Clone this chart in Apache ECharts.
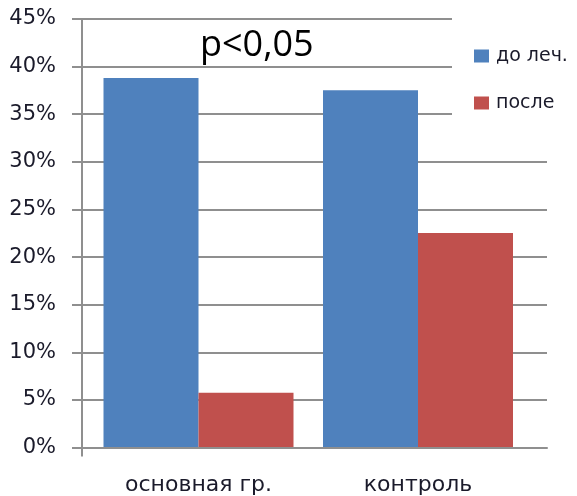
<!DOCTYPE html>
<html>
<head>
<meta charset="utf-8">
<script src="https://cdn.jsdelivr.net/npm/echarts@6/dist/echarts.min.js"></script>
<style>
  html, body { margin: 0; padding: 0; background: #fff; }
  #chart { width: 577px; height: 496px; }
</style>
</head>
<body>
<div id="chart"></div>
<script>
const categories = ['основная гр.', 'контроль'];
const seriesNames = ['до леч.', 'после'];
const beforeValues = [38.8, 37.5];
const afterValues = [5.7, 22.5];
const yTicks = { min: 0, max: 45, interval: 5 };
const annotation = 'p<0,05';

const chart = echarts.init(document.getElementById('chart'), null, { renderer: 'canvas' });
const gridColor = '#8f8f8f';
const textColor = '#1a1a2a';
const font = 'DejaVu Sans';

chart.setOption({
  animation: false,
  backgroundColor: '#ffffff',
  title: {
    text: annotation,
    left: 200,
    top: 28,
    padding: 0,
    textStyle: { fontFamily: 'Open Sans', fontSize: 36, fontWeight: 'normal', color: '#000', lineHeight: 36 }
  },
  legend: {
    orient: 'vertical',
    left: 452,
    top: 0,
    padding: [45, 10, 14, 22],
    backgroundColor: '#ffffff',
    itemWidth: 15,
    itemHeight: 13,
    itemGap: 25,
    icon: 'rect',
    data: seriesNames,
    textStyle: { fontFamily: font, fontSize: 19, color: textColor, lineHeight: 22, padding: [0, 0, 0, 2] }
  },
  grid: [
    { left: 82, right: 30, top: 19, bottom: 48.5, containLabel: false },
    { left: 88.75, right: 49.25, top: 19, bottom: 48.5, containLabel: false }
  ],
  xAxis: [
    {
      gridIndex: 0,
      type: 'category',
      data: ['', ''],
      boundaryGap: false,
      axisLine: { show: true, lineStyle: { color: gridColor, width: 2 } },
      axisTick: { show: true, length: 9, interval: function (i) { return i === 0; }, lineStyle: { color: gridColor, width: 2 } },
      axisLabel: { show: false },
      splitLine: { show: false }
    },
    {
      gridIndex: 1,
      type: 'category',
      data: categories,
      axisLine: { show: false },
      axisTick: { show: false },
      splitLine: { show: false },
      axisLabel: { fontFamily: font, fontSize: 22, color: textColor, margin: 27 }
    }
  ],
  yAxis: [
    {
      gridIndex: 0,
      type: 'value',
      min: yTicks.min,
      max: yTicks.max,
      interval: yTicks.interval,
      axisLine: { show: true, lineStyle: { color: gridColor, width: 2 } },
      axisTick: { show: true, length: 10, lineStyle: { color: gridColor, width: 2 } },
      splitLine: { show: true, lineStyle: { color: gridColor, width: 2 } },
      axisLabel: { fontFamily: font, fontSize: 21, color: textColor, margin: 26, formatter: '{value}%' }
    },
    {
      gridIndex: 1,
      type: 'value',
      min: yTicks.min,
      max: yTicks.max,
      interval: yTicks.interval,
      show: false,
      splitLine: { show: false }
    }
  ],
  series: [
    { name: seriesNames[0], type: 'bar', xAxisIndex: 1, yAxisIndex: 1, data: beforeValues, barWidth: 95, barGap: '0%', itemStyle: { color: '#4F81BD' } },
    { name: seriesNames[1], type: 'bar', xAxisIndex: 1, yAxisIndex: 1, data: afterValues, barWidth: 95, barGap: '0%', itemStyle: { color: '#C0504D' } }
  ]
});
</script>
</body>
</html>
